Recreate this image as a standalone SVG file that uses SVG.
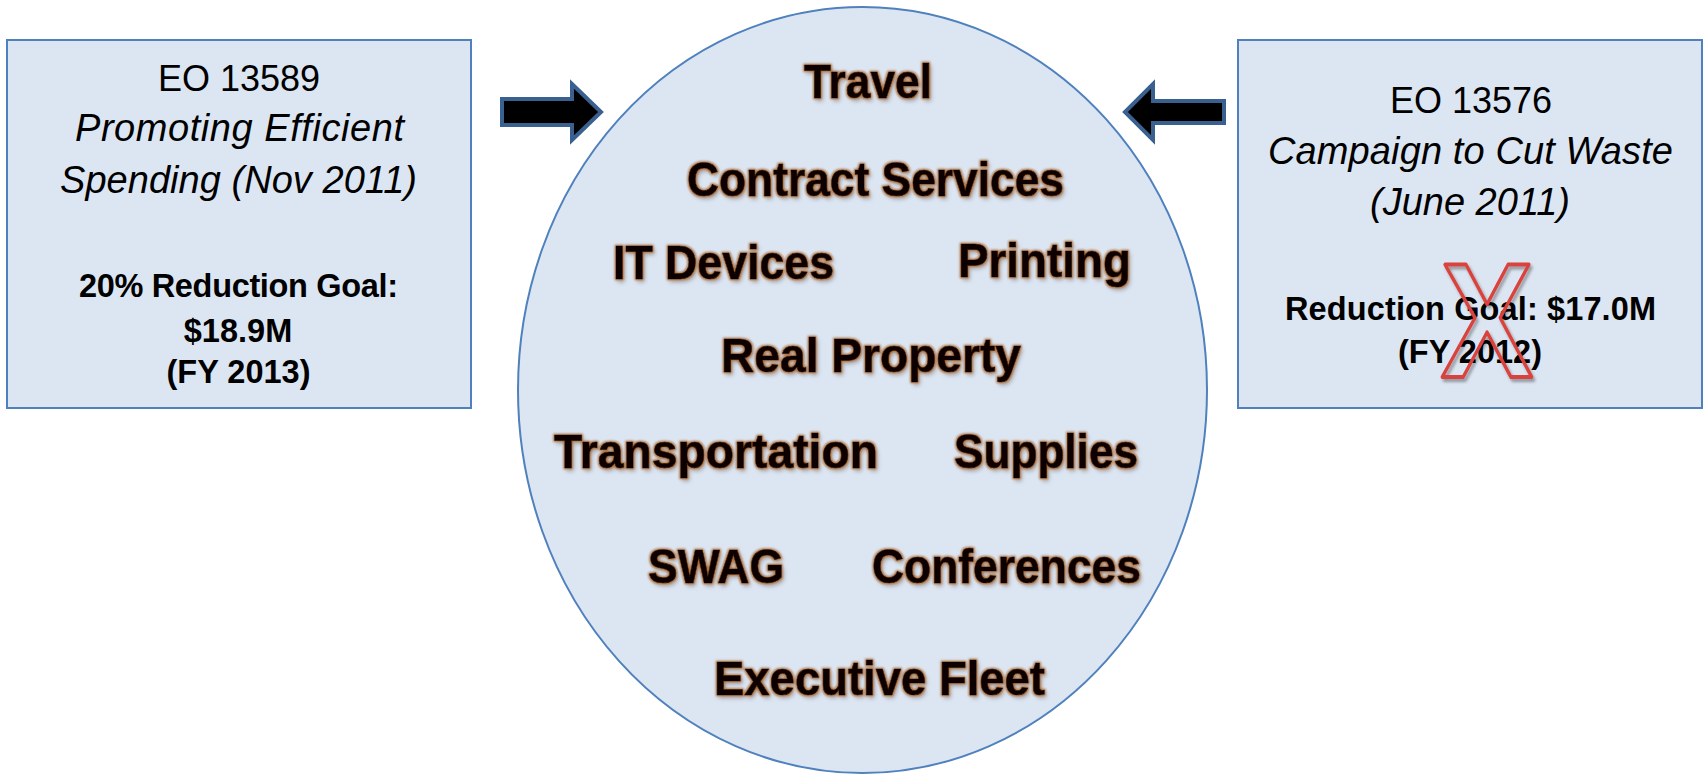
<svg xmlns="http://www.w3.org/2000/svg" width="1703" height="774" viewBox="0 0 1703 774">
  <defs>
    <style>
      .box { fill: #DCE6F2; stroke: #4F81BD; stroke-width: 2; }
      .reg { font-family: "Liberation Sans", Arial, sans-serif; font-size: 36px; fill: #000; text-anchor: middle; }
      .ital { font-family: "Liberation Sans", Arial, sans-serif; font-size: 38px; font-style: italic; fill: #000; text-anchor: middle; }
      .bold { font-family: "Liberation Sans", Arial, sans-serif; font-size: 32.5px; font-weight: bold; fill: #000; text-anchor: middle; }
      .cat { font-family: "Liberation Sans", Arial, sans-serif; font-size: 49px; font-weight: bold; fill: #0d0600; stroke: #0d0600; stroke-width: 0.6; filter: url(#glow); }
      .arrow { fill: #000; stroke: #3A6090; stroke-width: 4; stroke-linejoin: miter; }
      .xmark { font-family: "Liberation Sans", Arial, sans-serif; font-size: 163px; font-weight: bold; fill: none; stroke: #D9423D; stroke-width: 3.8; stroke-linejoin: round; filter: url(#xshadow); }
    </style>
    <filter id="glow" x="-10%" y="-40%" width="125%" height="190%">
      <feMorphology in="SourceAlpha" operator="dilate" radius="1.1" result="dil"/>
      <feGaussianBlur in="dil" stdDeviation="0.8" result="dilb"/>
      <feFlood flood-color="#A4561C" flood-opacity="0.8"/>
      <feComposite in2="dilb" operator="in" result="glowc"/>
      <feOffset in="SourceAlpha" dx="2" dy="3" result="off"/>
      <feGaussianBlur in="off" stdDeviation="2.2" result="offb"/>
      <feFlood flood-color="#000" flood-opacity="0.3"/>
      <feComposite in2="offb" operator="in" result="shadow"/>
      <feMerge>
        <feMergeNode in="shadow"/>
        <feMergeNode in="glowc"/>
        <feMergeNode in="SourceGraphic"/>
      </feMerge>
    </filter>
    <filter id="xshadow" x="-20%" y="-20%" width="150%" height="150%">
      <feOffset in="SourceAlpha" dx="2" dy="3" result="off"/>
      <feGaussianBlur in="off" stdDeviation="1.5" result="offb"/>
      <feFlood flood-color="#000" flood-opacity="0.35"/>
      <feComposite in2="offb" operator="in" result="shadow"/>
      <feMerge>
        <feMergeNode in="shadow"/>
        <feMergeNode in="SourceGraphic"/>
      </feMerge>
    </filter>
  </defs>

  <g id="center-ellipse">
    <ellipse cx="862.5" cy="390" rx="344.5" ry="383" class="box"/>
    <text class="cat" x="804" y="98" textLength="128" lengthAdjust="spacingAndGlyphs">Travel</text>
    <text class="cat" x="687" y="196" textLength="377" lengthAdjust="spacingAndGlyphs">Contract Services</text>
    <text class="cat" x="613" y="279" textLength="221" lengthAdjust="spacingAndGlyphs">IT Devices</text>
    <text class="cat" x="958" y="277" textLength="173" lengthAdjust="spacingAndGlyphs">Printing</text>
    <text class="cat" x="721" y="372" textLength="300" lengthAdjust="spacingAndGlyphs">Real Property</text>
    <text class="cat" x="554" y="468" textLength="324" lengthAdjust="spacingAndGlyphs">Transportation</text>
    <text class="cat" x="954" y="468" textLength="184" lengthAdjust="spacingAndGlyphs">Supplies</text>
    <text class="cat" x="648" y="583" textLength="136" lengthAdjust="spacingAndGlyphs">SWAG</text>
    <text class="cat" x="872" y="583" textLength="269" lengthAdjust="spacingAndGlyphs">Conferences</text>
    <text class="cat" x="714" y="695" textLength="331" lengthAdjust="spacingAndGlyphs">Executive Fleet</text>
  </g>

  <g id="eo13589">
    <rect x="7" y="40" width="464" height="368" class="box"/>
    <text class="reg" x="239" y="91">EO 13589</text>
    <text class="ital" x="239.5" y="141" textLength="329">Promoting Efficient</text>
    <text class="ital" x="238.5" y="193" textLength="357">Spending (Nov 2011)</text>
    <text class="bold" x="238.5" y="297" textLength="319">20% Reduction Goal:</text>
    <text class="bold" x="238" y="342">$18.9M</text>
    <text class="bold" x="238.5" y="383">(FY 2013)</text>
  </g>

  <g id="eo13576">
    <rect x="1238" y="40" width="464" height="368" class="box"/>
    <text class="reg" x="1471" y="113">EO 13576</text>
    <text class="ital" x="1470.5" y="164" textLength="405">Campaign to Cut Waste</text>
    <text class="ital" x="1470" y="215">(June 2011)</text>
    <text class="bold" x="1470.5" y="320" textLength="371">Reduction Goal: $17.0M</text>
    <text class="bold" x="1470" y="363">(FY 2012)</text>
    <text class="xmark" x="1441" y="377" textLength="92" lengthAdjust="spacingAndGlyphs">X</text>
  </g>

  <g id="connectors">
    <polygon class="arrow" points="502,99 572,99 572,84 601,112 572,140 572,125 502,125"/>
    <polygon class="arrow" points="1224,101 1153,101 1153,84 1125,112 1153,140 1153,123 1224,123"/>
  </g>
</svg>
